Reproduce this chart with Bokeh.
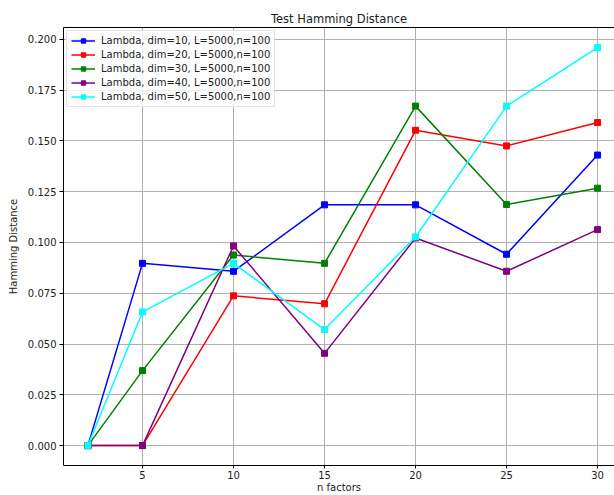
from bokeh.plotting import figure
from bokeh.models import Range1d, Legend, LegendItem, FixedTicker, NumeralTickFormatter, LinearAxis
from bokeh.embed import file_html
from bokeh.resources import INLINE

n_factors = [2, 5, 10, 15, 20, 25, 30]
dim10 = [0.0, 0.0897, 0.0858, 0.1185, 0.1185, 0.0942, 0.1430]
dim20 = [0.0, 0.0, 0.0737, 0.0698, 0.1552, 0.1475, 0.1590]
dim30 = [0.0, 0.0369, 0.0938, 0.0897, 0.1671, 0.1187, 0.1267]
dim40 = [0.0, 0.0, 0.0983, 0.0454, 0.1022, 0.0858, 0.1063]
dim50 = [0.0, 0.0658, 0.0897, 0.0571, 0.1027, 0.1671, 0.1959]
labels = ["Lambda, dim=10, L=5000,n=100", "Lambda, dim=20, L=5000,n=100",
          "Lambda, dim=30, L=5000,n=100", "Lambda, dim=40, L=5000,n=100",
          "Lambda, dim=50, L=5000,n=100"]
colors = ["blue", "red", "green", "purple", "cyan"]
x_ticks = [5, 10, 15, 20, 25, 30]
y_ticks = [0.0, 0.025, 0.05, 0.075, 0.1, 0.125, 0.15, 0.175, 0.2]

FONT = "DejaVu Sans"

p = figure(width=614, height=495, output_backend="svg", toolbar_location=None,
           x_range=Range1d(0.66, 30.93), y_range=Range1d(-0.0098, 0.2058),
           min_border_left=63, min_border_right=0, min_border_top=27, min_border_bottom=0)

p.title.text = "Test Hamming Distance"
p.title.align = "center"
p.title.text_font = FONT
p.title.text_font_size = "11.5px"
p.title.text_font_style = "normal"
p.title.text_color = "#222222"
p.title.standoff = 3

p.xaxis.axis_label = "n factors"
p.yaxis.axis_label = "Hamming Distance"
for ax in (p.xaxis[0], p.yaxis[0]):
    ax.axis_label_text_font = FONT
    ax.axis_label_text_font_size = "10px"
    ax.axis_label_text_font_style = "normal"
    ax.axis_label_text_color = "#222222"
    ax.major_label_text_font = FONT
    ax.major_label_text_font_size = "10px"
    ax.major_label_text_color = "#222222"
    ax.minor_tick_line_color = None
    ax.major_tick_out = 4
    ax.major_tick_in = 0
    ax.axis_line_color = "black"
    ax.major_tick_line_color = "black"
    ax.major_label_standoff = 3
p.xaxis.axis_label_standoff = 0
p.xaxis.major_label_standoff = 2
p.xaxis.major_tick_out = 3
p.yaxis.axis_label_standoff = 6

p.xaxis.ticker = FixedTicker(ticks=x_ticks)
p.yaxis.ticker = FixedTicker(ticks=y_ticks)
p.yaxis.formatter = NumeralTickFormatter(format="0.000")

top = LinearAxis(ticker=FixedTicker(ticks=[]), major_label_text_font_size="0px",
                 major_tick_out=0, major_tick_in=0, minor_tick_out=0, minor_tick_in=0,
                 axis_line_color="black")
p.add_layout(top, "above")

p.xgrid.grid_line_color = "#b0b0b0"
p.ygrid.grid_line_color = "#b0b0b0"
p.outline_line_color = None

items = []
for ys, c, lab in zip([dim10, dim20, dim30, dim40, dim50], colors, labels):
    r1 = p.line(n_factors, ys, line_color=c, line_width=1.5)
    r2 = p.scatter(n_factors, ys, marker="square", size=6, fill_color=c, line_color=c)
    items.append(LegendItem(label=lab, renderers=[r1, r2]))

legend = Legend(items=items, location="top_left")
legend.label_text_font = FONT
legend.label_text_font_size = "10px"
legend.label_text_color = "#222222"
legend.glyph_width = 24
legend.glyph_height = 11
legend.label_height = 11
legend.spacing = 3
legend.padding = 4
legend.margin = 3
legend.label_standoff = 6
legend.border_line_color = "#cccccc"
legend.background_fill_alpha = 0.8
p.add_layout(legend)

open("out.html", "w").write(file_html(p, INLINE))
